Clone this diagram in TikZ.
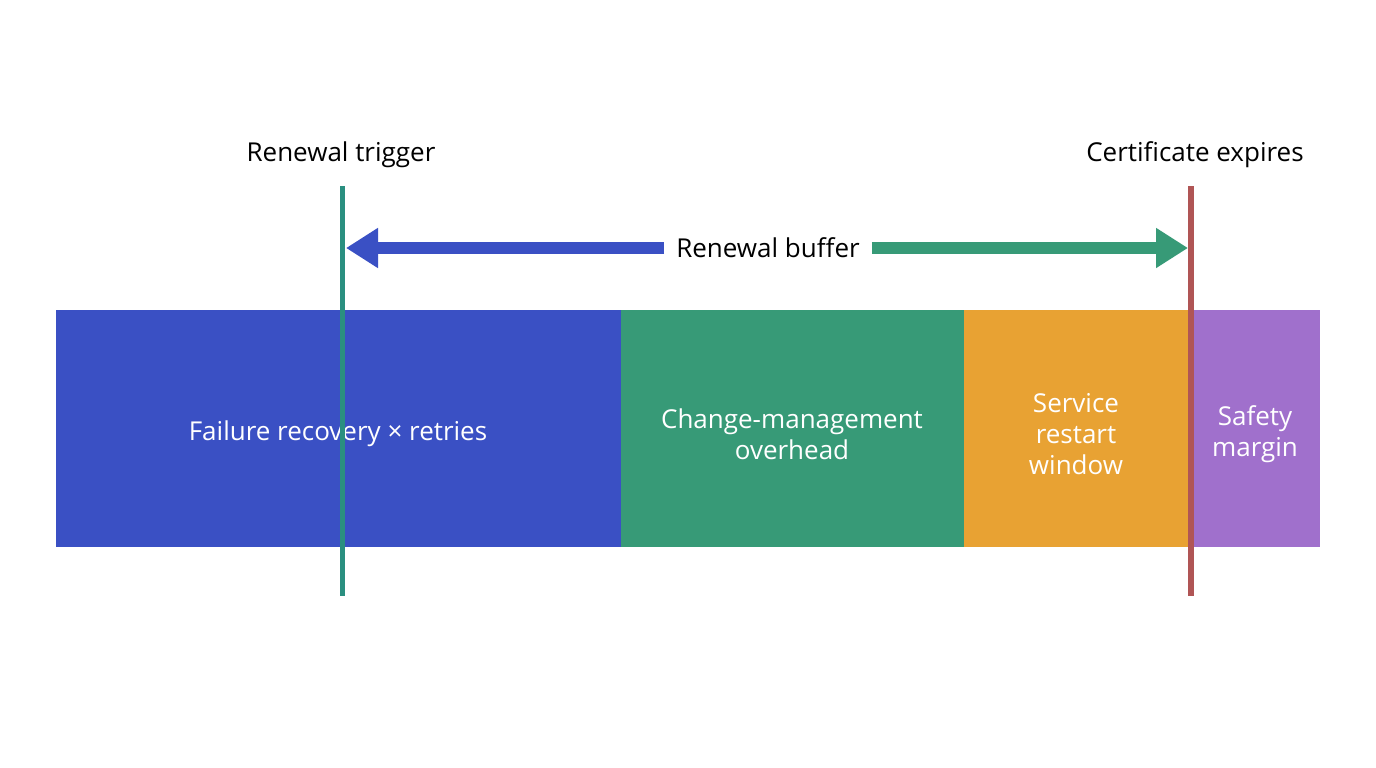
\documentclass[tikz,border=0pt]{standalone}
\usepackage{fontspec}
\setmainfont{Open Sans}
\usetikzlibrary{arrows.meta}
\definecolor{cblue}{HTML}{3A50C4}
\definecolor{cgreen}{HTML}{379A77}
\definecolor{corange}{HTML}{E8A233}
\definecolor{cpurple}{HTML}{A070CC}
\definecolor{cteal}{HTML}{2A8F80}
\definecolor{cred}{HTML}{B05555}
\begin{document}
\begin{tikzpicture}[x=1pt,y=-1pt,
  seg/.style={draw=none,inner sep=0pt,text=white,font=\fontsize{26}{31}\selectfont,align=center},
  lab/.style={font=\fontsize{26}{31}\selectfont,text=black},
  arr/.style={line width=12pt,-{Triangle[length=32pt,width=38pt]}}]
\useasboundingbox[fill=white] (0,0) rectangle (1376,768);
\fill[cblue] (56,310) rectangle (621,547);
\fill[cgreen] (621,310) rectangle (964,547);
\fill[corange] (964,310) rectangle (1188,547);
\fill[cpurple] (1188,310) rectangle (1320,547);
\node[seg] (f) at (338,434) {Failure recovery × retries};
\node[seg] (c) at (792,434) {Change-management\\overhead};
\node[seg] (s) at (1076,434) {Service\\restart\\window};
\node[seg] (m) at (1255,434) {Safety\\margin};
\coordinate (t1) at (342,186); \coordinate (t2) at (342,596);
\coordinate (r1) at (1191,186); \coordinate (r2) at (1191,596);
\draw[cteal,line width=5pt] (t1) -- (t2);
\draw[cred,line width=6pt] (r1) -- (r2);
\node[lab] (lt) at (341,155) {Renewal trigger};
\node[lab] (lc) at (1195,155) {Certificate expires};
\node[lab,inner sep=12pt] (rb) at (768,248) {Renewal buffer};
\coordinate (al) at (346,248); \coordinate (ar) at (1188,248);
\draw[arr,cblue] (rb.west) -- (al);
\draw[arr,cgreen] (rb.east) -- (ar);
\end{tikzpicture}
\end{document}
